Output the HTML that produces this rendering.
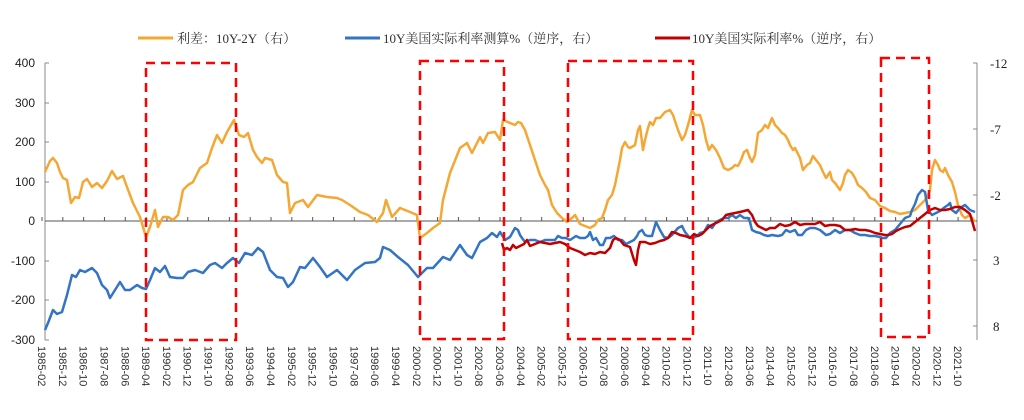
<!DOCTYPE html>
<html><head><meta charset="utf-8"><style>
body{margin:0;background:#fff;}
svg{display:block;}
.t{font-family:"Liberation Sans",sans-serif;font-size:12px;fill:#222;}
.xl{font-family:"Liberation Sans",sans-serif;font-size:11px;fill:#333;}
.lg{font-family:"Liberation Serif","Noto Serif CJK SC",serif;font-size:13px;fill:#333;}
</style></head><body>
<svg width="1024" height="420" viewBox="0 0 1024 420" xmlns="http://www.w3.org/2000/svg">
<line x1="138" y1="38" x2="173" y2="38" stroke="#F5A733" stroke-width="3"/>
<text class="lg" x="177" y="43">利差：10Y-2Y（右）</text>
<line x1="345" y1="38" x2="380" y2="38" stroke="#3474C4" stroke-width="3"/>
<text class="lg" x="383" y="43">10Y美国实际利率测算%（逆序，右）</text>
<line x1="655" y1="38" x2="690" y2="38" stroke="#C00000" stroke-width="3"/>
<text class="lg" x="692" y="43">10Y美国实际利率%（逆序，右）</text>
<line x1="45" y1="63" x2="45" y2="340" stroke="#888" stroke-width="1"/>
<g stroke="#888"><line x1="45" y1="63" x2="49" y2="63"/><line x1="45" y1="103" x2="49" y2="103"/><line x1="45" y1="142" x2="49" y2="142"/><line x1="45" y1="182" x2="49" y2="182"/><line x1="45" y1="261" x2="49" y2="261"/><line x1="45" y1="300" x2="49" y2="300"/><line x1="45" y1="340" x2="49" y2="340"/></g>
<g class="t" text-anchor="end">
<text x="35" y="67">400</text><text x="35" y="107">300</text><text x="35" y="146">200</text><text x="35" y="186">100</text><text x="35" y="225">0</text><text x="35" y="265">-100</text><text x="35" y="304">-200</text><text x="35" y="344">-300</text></g>
<line x1="977" y1="63" x2="977" y2="340" stroke="#888"/>
<g stroke="#888"><line x1="973" y1="63" x2="977" y2="63"/><line x1="973" y1="129" x2="977" y2="129"/><line x1="973" y1="195" x2="977" y2="195"/><line x1="973" y1="260" x2="977" y2="260"/><line x1="973" y1="326" x2="977" y2="326"/></g>
<g style="font-family:'Liberation Serif',serif;font-size:13px;fill:#222">
<text x="990" y="68">-12</text><text x="990" y="134">-7</text><text x="990" y="200">-2</text><text x="993" y="265">3</text><text x="993" y="331">8</text></g>
<line x1="45" y1="221" x2="977" y2="221" stroke="#555" stroke-width="1"/>
<g id="ticks" stroke="#555"></g>
<g id="xl"></g>
<polyline fill="none" stroke="#F5A733" stroke-width="2.5" stroke-linejoin="round" points="45,172 50,161 53,158 57,163 60,172 63,178 67,180 71,203 75,197 79,198 83,182 87,179 92,187 97,183 102,188 107,181 112,171 117,179 123,176 127,187 133,203 140,217 146,237 150,227 155,210 158,227 163,217 168,217 173,220 178,215 183,190 188,185 193,182 200,168 207,163 212,148 217,135 222,143 227,132 234,120 239,135 244,137 248,133 253,150 257,157 262,163 265,158 272,160 277,175 283,182 287,183 290,213 295,203 303,200 308,207 317,195 327,197 337,198 342,200 350,205 360,212 368,215 377,222 383,213 386,200 392,217 400,208 410,212 417,215 420,238 427,233 433,228 440,223 443,200 450,173 460,148 467,143 472,153 480,137 483,143 488,133 495,132 500,140 503,120 510,123 515,125 518,122 521,123 525,130 530,145 535,160 540,175 545,185 548,190 552,205 557,213 562,218 567,222 572,218 575,215 580,224 585,226 590,228 595,225 598,220 602,218 605,210 608,200 612,195 615,185 618,170 620,160 622,148 625,142 628,147 630,148 635,145 638,130 640,126 643,150 645,140 648,128 650,122 653,125 656,118 660,118 665,112 670,110 673,115 678,130 682,140 685,135 688,125 692,110 695,115 700,115 703,125 706,140 709,150 712,145 716,150 720,158 724,168 728,170 732,168 735,165 738,166 741,160 744,152 747,150 750,158 752,162 755,155 758,133 762,130 765,125 768,128 772,118 775,125 778,128 782,133 785,135 788,140 790,145 793,150 795,148 800,158 803,170 807,165 810,163 813,156 816,160 820,165 823,172 826,178 830,172 832,180 835,183 840,190 843,183 845,175 848,170 852,173 855,178 858,185 862,188 866,192 870,198 875,200 880,206 885,208 890,211 895,212 900,214 905,213 910,212 915,210 920,205 925,200 928,195 930,190 932,170 935,160 938,165 940,170 943,172 945,168 948,175 952,182 955,192 958,205 962,215 965,218 970,215 975,222"/>
<polyline fill="none" stroke="#3474C4" stroke-width="2.5" stroke-linejoin="round" points="45,330 48,323 53,310 57,314 62,312 67,295 72,275 76,277 80,270 85,272 92,268 97,273 102,285 107,290 110,298 115,290 120,282 125,290 130,290 137,285 142,288 146,289 150,280 155,268 160,272 165,266 170,277 177,278 183,278 188,272 195,270 203,273 210,265 215,263 222,268 227,263 233,258 239,263 245,253 252,255 258,248 263,252 270,270 277,277 283,278 288,287 293,282 300,267 305,268 313,258 320,267 327,277 337,270 347,280 355,270 365,263 375,262 380,258 383,247 390,250 398,257 408,265 418,277 427,268 433,268 443,257 450,260 460,245 467,255 472,258 480,242 487,238 492,233 497,237 500,232 505,240 510,237 515,228 518,230 520,235 522,238 525,242 530,240 535,240 540,242 545,240 550,240 555,240 558,236 562,238 566,238 570,240 573,238 576,236 580,238 585,238 588,236 590,232 593,240 596,238 600,245 603,245 606,238 610,238 614,236 618,240 622,240 626,244 630,242 634,240 637,236 639,232 642,230 645,235 648,236 652,236 656,222 660,230 664,237 668,238 672,235 678,228 682,226 685,232 690,238 693,238 697,236 700,233 704,232 708,225 712,228 716,222 720,220 724,218 728,218 732,215 736,218 740,215 744,218 748,218 750,222 752,230 756,232 760,233 764,235 768,236 772,235 778,236 782,235 786,230 790,232 795,230 798,235 802,235 806,230 810,228 815,228 820,230 826,235 830,234 835,230 840,233 845,230 850,230 855,233 860,235 865,235 870,236 875,236 880,237 883,238 886,238 890,233 895,230 900,224 905,218 910,216 912,210 915,204 918,195 922,190 925,192 928,210 932,215 936,213 940,211 945,207 948,205 950,203 952,210 956,213 960,208 965,205 970,210 975,212"/>
<polyline fill="none" stroke="#C00000" stroke-width="2.5" stroke-linejoin="round" points="502,243 504,250 507,248 510,250 513,245 516,248 520,246 524,244 527,240 530,246 535,244 540,242 545,243 550,244 555,243 560,242 565,244 570,248 575,250 580,252 585,255 590,253 595,254 600,252 605,253 610,248 613,240 616,238 620,240 624,245 630,247 634,260 636,265 638,250 640,242 645,242 650,244 655,243 660,241 664,240 668,238 672,232 676,233 680,235 685,236 690,238 694,234 698,236 702,234 706,230 710,226 714,224 718,222 722,220 726,215 730,214 735,213 740,212 744,211 748,210 752,215 755,222 758,226 762,228 766,230 770,228 775,228 780,224 785,226 790,225 795,222 800,225 805,224 810,224 815,224 820,222 825,226 830,225 835,225 840,226 845,230 850,230 855,229 860,230 865,230 870,231 875,233 880,234 885,235 888,235 892,234 896,231 900,229 905,227 910,226 915,222 920,218 925,214 930,210 935,208 940,210 945,210 950,209 955,207 960,207 965,210 970,214 975,231"/>
<g fill="none" stroke="#FF0000" stroke-width="2.5" stroke-dasharray="9,6">
<rect x="146" y="63" width="90" height="277"/>
<rect x="420" y="61" width="84" height="278"/>
<rect x="568" y="61" width="125" height="278"/>
<rect x="881" y="58" width="48" height="279"/>
</g>
</svg>
<script>
var labs="1985-02 1985-12 1986-10 1987-08 1988-06 1989-04 1990-02 1990-12 1991-10 1992-08 1993-06 1994-04 1995-02 1995-12 1996-10 1997-08 1998-06 1999-04 2000-02 2000-12 2001-10 2002-08 2003-06 2004-04 2005-02 2005-12 2006-10 2007-08 2008-06 2009-04 2010-02 2010-12 2011-10 2012-08 2013-06 2014-04 2015-02 2015-12 2016-10 2017-08 2018-06 2019-04 2020-02 2020-12 2021-10".split(" ");
var ns="http://www.w3.org/2000/svg",tg=document.getElementById("ticks"),xg=document.getElementById("xl");
for(var i=0;i<labs.length;i++){var x=42+i*20.82;
var l=document.createElementNS(ns,"line");l.setAttribute("x1",x);l.setAttribute("x2",x);l.setAttribute("y1",217);l.setAttribute("y2",221);tg.appendChild(l);
var t=document.createElementNS(ns,"text");t.setAttribute("class","xl");t.setAttribute("transform","translate("+(x-4)+",346) rotate(90)");t.textContent=labs[i];xg.appendChild(t);}
</script>
</body></html>
